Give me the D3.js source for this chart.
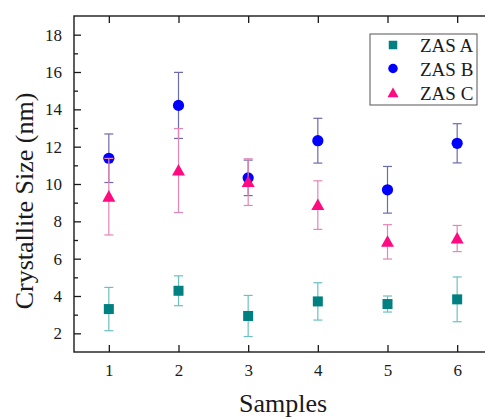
<!DOCTYPE html>
<html>
<head>
<meta charset="utf-8">
<script src="https://cdn.jsdelivr.net/npm/d3@7/dist/d3.min.js"></script>
<style>
  html, body { margin: 0; padding: 0; background: #fff; }
  svg { display: block; }
</style>
</head>
<body>
<svg id="chart" width="485" height="420"></svg>
<script>
// Sample numbers on the x axis
const samples = [1, 2, 3, 4, 5, 6];
// Mean crystallite size (nm) and error for each series
const zasA = [3.30, 4.28, 2.93, 3.71, 3.57, 3.82];
const zasAErr = [1.16, 0.80, 1.10, 1.00, 0.43, 1.20];
const zasB = [11.38, 14.21, 10.33, 12.32, 9.69, 12.18];
const zasBErr = [1.30, 1.77, 0.95, 1.20, 1.25, 1.05];
const zasC = [9.32, 10.72, 10.10, 8.87, 6.90, 7.08];
const zasCErr = [2.05, 2.25, 1.25, 1.30, 0.92, 0.70];
const seriesNames = ["ZAS A", "ZAS B", "ZAS C"];
const yTicks = [2, 4, 6, 8, 10, 12, 14, 16, 18];
const yMinorTicks = [3, 5, 7, 9, 11, 13, 15, 17];

const FONT = "'Liberation Serif', Tinos, 'Times New Roman', 'DejaVu Serif', serif";

const series = [
  { name: seriesNames[0], values: zasA, err: zasAErr, shape: "square", fill: "#008080", bar: "#6cc0c0" },
  { name: seriesNames[1], values: zasB, err: zasBErr, shape: "circle", fill: "#0000ff", bar: "#6b6bb0" },
  { name: seriesNames[2], values: zasC, err: zasCErr, shape: "triangle", fill: "#ff0a80", bar: "#e585b5" }
];

const svg = d3.select("#chart").attr("font-family", FONT);
const plot = { left: 74, top: 16, right: 492, bottom: 352 };

const x = d3.scaleLinear().domain([0.5, 6.5]).range([plot.left, plot.right]);
const y = d3.scaleLinear().domain([1, 19]).range([plot.bottom, plot.top]);

const axisColor = "#1a1a1a";

// Axes with inward ticks
const bottomAxis = d3.axisBottom(x).tickValues(samples).tickSize(-7).tickPadding(12).tickFormat(d3.format("d"));
const topAxis = d3.axisTop(x).tickValues(samples).tickSize(-7).tickFormat("");
const leftAxis = d3.axisLeft(y).tickValues(yTicks).tickSize(-7).tickPadding(12).tickFormat(d3.format("d"));
const rightAxis = d3.axisRight(y).tickValues(yTicks).tickSize(-7).tickFormat("");

function styleAxis(g) {
  g.attr("font-family", FONT).attr("font-size", 17);
  g.select(".domain").remove();
  g.selectAll(".tick line").attr("stroke", axisColor).attr("stroke-width", 1.3);
  g.selectAll(".tick text").attr("fill", axisColor)
    .attr("font-family", FONT).attr("font-size", 17);
}

svg.append("g").attr("transform", `translate(0,${plot.bottom})`).call(bottomAxis).call(styleAxis);
svg.append("g").attr("transform", `translate(0,${plot.top})`).call(topAxis).call(styleAxis);
svg.append("g").attr("transform", `translate(${plot.left},0)`).call(leftAxis).call(styleAxis);
svg.append("g").attr("transform", `translate(${plot.right},0)`).call(rightAxis).call(styleAxis);

// Minor ticks on the y axes
const minorL = d3.axisLeft(y).tickValues(yMinorTicks).tickSize(-4).tickFormat("");
const minorR = d3.axisRight(y).tickValues(yMinorTicks).tickSize(-4).tickFormat("");
svg.append("g").attr("transform", `translate(${plot.left},0)`).call(minorL).call(styleAxis);
svg.append("g").attr("transform", `translate(${plot.right},0)`).call(minorR).call(styleAxis);

// Frame
svg.append("rect")
  .attr("x", plot.left).attr("y", plot.top)
  .attr("width", plot.right - plot.left).attr("height", plot.bottom - plot.top)
  .attr("fill", "none").attr("stroke", axisColor).attr("stroke-width", 1.4);

// Axis titles
svg.append("text")
  .attr("x", 283).attr("y", 412)
  .attr("text-anchor", "middle").attr("font-size", 26).attr("fill", axisColor)
  .text("Samples");
svg.append("text")
  .attr("transform", "translate(33,201) rotate(-90)")
  .attr("text-anchor", "middle").attr("font-size", 26).attr("fill", axisColor)
  .text("Crystallite Size (nm)");

function drawSymbol(g, shape, cx, cy, fill, scale) {
  const s = scale || 1;
  if (shape === "square") {
    const h = 5 * s;
    g.append("rect").attr("x", cx - h).attr("y", cy - h).attr("width", 2 * h).attr("height", 2 * h)
      .attr("fill", fill);
  } else if (shape === "circle") {
    g.append("circle").attr("cx", cx).attr("cy", cy).attr("r", 5.6 * s).attr("fill", fill);
  } else {
    const w = 6.5 * s, h = 11 * s;
    g.append("path")
      .attr("d", `M${cx},${cy - h * 0.6} L${cx + w},${cy + h * 0.45} L${cx - w},${cy + h * 0.45} Z`)
      .attr("fill", fill);
  }
}

// Error bars, then markers, per series
const capHalf = 4.5;
series.forEach(s => {
  const g = svg.append("g");
  samples.forEach((xi, i) => {
    const cx = x(xi);
    const yTop = y(s.values[i] + s.err[i]);
    const yBot = y(s.values[i] - s.err[i]);
    g.append("line").attr("x1", cx).attr("x2", cx).attr("y1", yTop).attr("y2", yBot)
      .attr("stroke", s.bar).attr("stroke-width", 1.2);
    [yTop, yBot].forEach(yy => {
      g.append("line").attr("x1", cx - capHalf).attr("x2", cx + capHalf).attr("y1", yy).attr("y2", yy)
        .attr("stroke", s.bar).attr("stroke-width", 1.2);
    });
  });
  samples.forEach((xi, i) => {
    drawSymbol(g, s.shape, x(xi), y(s.values[i]), s.fill, 1);
  });
});

// Legend
const legend = svg.append("g");
legend.append("rect").attr("x", 370).attr("y", 34).attr("width", 107).attr("height", 71)
  .attr("fill", "#fff").attr("stroke", "#555").attr("stroke-width", 1);
const rowY = [45, 68.5, 93];
series.forEach((s, i) => {
  drawSymbol(legend, s.shape, 393, rowY[i], s.fill, 0.85);
  legend.append("text").attr("x", 420).attr("y", rowY[i] + 7)
    .attr("font-size", 19).attr("font-family", FONT).attr("fill", axisColor).text(s.name);
});
</script>
</body>
</html>
